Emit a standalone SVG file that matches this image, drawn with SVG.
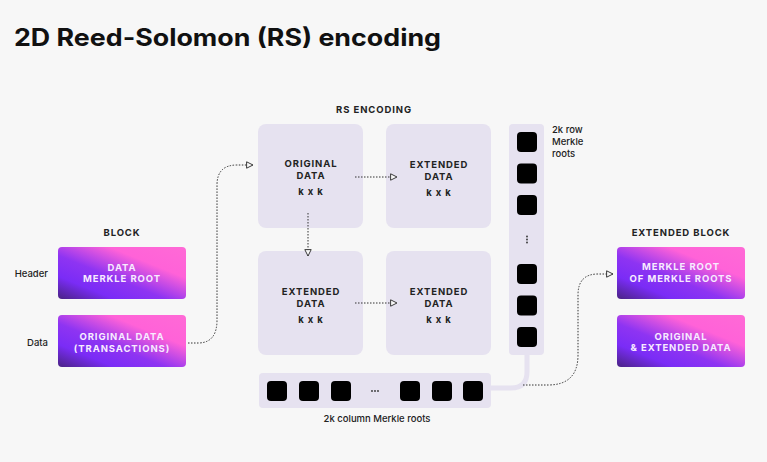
<svg xmlns="http://www.w3.org/2000/svg" width="767" height="462" viewBox="0 0 767 462">
<defs>
<linearGradient id="grad" x1="0" y1="1" x2="1" y2="0">
<stop offset="0" stop-color="#4a2384"/>
<stop offset="0.22" stop-color="#7a2cf6"/>
<stop offset="0.42" stop-color="#8e34f2"/>
<stop offset="0.7" stop-color="#ff62d8"/>
<stop offset="1" stop-color="#ff6ad6"/>
</linearGradient>
<marker id="arr" viewBox="0 0 10 10" refX="9" refY="5" markerWidth="8" markerHeight="8" markerUnits="userSpaceOnUse" orient="auto">
<path d="M1 1 L9 5 L1 9 Z" fill="#f7f7f7" stroke="#333" stroke-width="1.2"/>
</marker>
<style>
.cell{fill:#e6e2f0}
.bar{fill:#e6e2f0}
.sq{fill:#000}
.cap{font-family:Inter,"Liberation Sans",sans-serif;font-weight:700;font-size:9.5px;letter-spacing:0.9px;fill:#222;text-anchor:middle}
.wcap{font-family:Inter,"Liberation Sans",sans-serif;font-weight:700;font-size:9.5px;letter-spacing:0.9px;fill:#f8ebff;text-anchor:middle}
.lbl{font-family:Inter,"Liberation Sans",sans-serif;font-weight:500;font-size:9.5px;fill:#222}
.dot{fill:none;stroke:#333;stroke-width:1;stroke-dasharray:1.5 1.5}
.grad{fill:url(#grad)}
</style>
</defs>
<rect width="767" height="462" fill="#f7f7f7"/>
<text x="14" y="46" font-family="Inter,'Liberation Sans',sans-serif" font-weight="700" font-size="24" fill="#111" textLength="427" lengthAdjust="spacingAndGlyphs">2D Reed-Solomon (RS) encoding</text>

<g id="block">
<text class="cap" x="122" y="236">BLOCK</text>
<text class="lbl" x="48" y="277" text-anchor="end">Header</text>
<text class="lbl" x="48" y="346" text-anchor="end">Data</text>
</g>
<g id="header-box">
<rect class="grad" x="58" y="247" width="128" height="52" rx="4"/>
<text class="wcap" x="122" y="271">DATA</text>
<text class="wcap" x="122" y="282">MERKLE ROOT</text>
</g>
<g id="data-box">
<rect class="grad" x="58" y="315" width="128" height="52" rx="4"/>
<text class="wcap" x="122" y="340">ORIGINAL DATA</text>
<text class="wcap" x="122" y="352">(TRANSACTIONS)</text>
</g>

<g id="rs-encoding">
<text class="cap" x="374" y="113">RS ENCODING</text>
</g>
<g id="original-data">
<rect class="cell" x="258" y="124" width="105" height="104" rx="8"/>
<text class="cap" x="311" y="167">ORIGINAL</text>
<text class="cap" x="311" y="179">DATA</text>
<text class="cap" x="311" y="195">k x k</text>
</g>
<g id="extended-data-1">
<rect class="cell" x="386" y="124" width="105" height="104" rx="8"/>
<text class="cap" x="439" y="168">EXTENDED</text>
<text class="cap" x="439" y="180">DATA</text>
<text class="cap" x="439" y="196">k x k</text>
</g>
<g id="extended-data-2">
<rect class="cell" x="258" y="251" width="105" height="104" rx="8"/>
<text class="cap" x="311" y="295">EXTENDED</text>
<text class="cap" x="311" y="307">DATA</text>
<text class="cap" x="311" y="323">k x k</text>
</g>
<g id="extended-data-3">
<rect class="cell" x="386" y="251" width="105" height="104" rx="8"/>
<text class="cap" x="439" y="295">EXTENDED</text>
<text class="cap" x="439" y="307">DATA</text>
<text class="cap" x="439" y="323">k x k</text>
</g>

<g id="row-roots">
<rect class="bar" x="509" y="124" width="35" height="231" rx="4"/>
<rect class="sq" x="517" y="132" width="20" height="20" rx="4"/>
<rect class="sq" x="517" y="163.5" width="20" height="20" rx="4"/>
<rect class="sq" x="517" y="195" width="20" height="20" rx="4"/>
<circle cx="527" cy="236.5" r="0.9" fill="#333"/>
<circle cx="527" cy="239.5" r="0.9" fill="#333"/>
<circle cx="527" cy="242.5" r="0.9" fill="#333"/>
<rect class="sq" x="517" y="264" width="20" height="20" rx="4"/>
<rect class="sq" x="517" y="295.5" width="20" height="20" rx="4"/>
<rect class="sq" x="517" y="327" width="20" height="20" rx="4"/>
<text class="lbl" x="552" y="133" font-weight="400">2k row</text>
<text class="lbl" x="552" y="145" font-weight="400">Merkle</text>
<text class="lbl" x="552" y="157" font-weight="400">roots</text>
</g>

<g id="column-roots">
<rect class="bar" x="259" y="373" width="232" height="35" rx="4"/>
<rect class="sq" x="267" y="381" width="20" height="20" rx="4"/>
<rect class="sq" x="299" y="381" width="20" height="20" rx="4"/>
<rect class="sq" x="331" y="381" width="20" height="20" rx="4"/>
<circle cx="372" cy="391" r="0.9" fill="#333"/>
<circle cx="375" cy="391" r="0.9" fill="#333"/>
<circle cx="378" cy="391" r="0.9" fill="#333"/>
<rect class="sq" x="400" y="381" width="20" height="20" rx="4"/>
<rect class="sq" x="432" y="381" width="20" height="20" rx="4"/>
<rect class="sq" x="463" y="381" width="20" height="20" rx="4"/>
<text class="lbl" x="377" y="422" text-anchor="middle" font-weight="400">2k column Merkle roots</text>
</g>

<g id="extended-block">
<text class="cap" x="681" y="236">EXTENDED BLOCK</text>
</g>
<g id="merkle-root-box">
<rect class="grad" x="617" y="247" width="128" height="52" rx="4"/>
<text class="wcap" x="681" y="270">MERKLE ROOT</text>
<text class="wcap" x="681" y="282">OF MERKLE ROOTS</text>
</g>
<g id="ext-data-box">
<rect class="grad" x="617" y="315" width="128" height="52" rx="4"/>
<text class="wcap" x="681" y="340">ORIGINAL</text>
<text class="wcap" x="681" y="351">&amp; EXTENDED DATA</text>
</g>

<g id="connectors">
<path d="M527 355 V372 Q527 388 511 388 H491" fill="none" stroke="#e6e2f0" stroke-width="5"/>
<path class="dot" d="M188 343 H198 Q217 343 217 320 V185 Q217 165 237 165 H253" marker-end="url(#arr)"/>
<path class="dot" d="M355 177 H397" marker-end="url(#arr)"/>
<path class="dot" d="M308 213 V256" marker-end="url(#arr)"/>
<path class="dot" d="M355 303 H397" marker-end="url(#arr)"/>
<path class="dot" d="M523 385 H548 Q578 385 578 355 V295 Q578 274 598 274 H613" marker-end="url(#arr)"/>
</g>
</svg>
